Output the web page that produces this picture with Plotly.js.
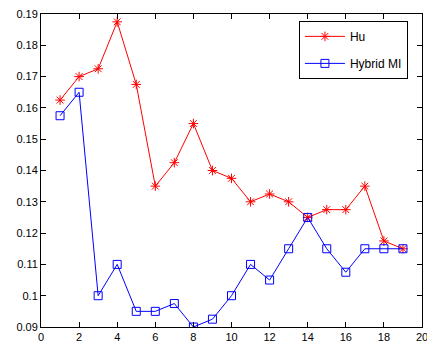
<!DOCTYPE html>
<html><head><meta charset="utf-8">
<script src="https://cdn.plot.ly/plotly-3.0.1.min.js"></script>
<style>html,body{margin:0;padding:0;background:#fff}#c{width:427px;height:345px}</style>
</head><body><div id="c"></div>
<script>
const xs = [1,2,3,4,5,6,7,8,9,10,11,12,13,14,15,16,17,18,19];
const huVals = [0.1625,0.17,0.1725,0.1875,0.1675,0.135,0.1425,0.155,0.14,0.1375,0.13,0.1325,0.13,0.125,0.1275,0.1275,0.135,0.1175,0.115];
const hybridVals = [0.1575,0.165,0.1,0.11,0.095,0.095,0.0975,0.09,0.0925,0.1,0.11,0.105,0.115,0.125,0.115,0.1075,0.115,0.115,0.115];
const seriesNames = ['Hu','Hybrid MI'];
const xTicks = [0,2,4,6,8,10,12,14,16,18,20];
const yTicks = [0.09,0.1,0.11,0.12,0.13,0.14,0.15,0.16,0.17,0.18,0.19];

const traces = [
 {x: xs, y: huVals, name: seriesNames[0], type:'scatter', mode:'lines+markers', legendgroup:'a',
  line:{color:'#ff0000', width:1}, marker:{symbol:'asterisk-open', size:8, color:'#ff0000', line:{color:'#ff0000', width:1}}},
 {x: xs, y: hybridVals, name: seriesNames[1], type:'scatter', mode:'lines+markers', legendgroup:'b',
  line:{color:'#0000ff', width:1}, marker:{symbol:'square-open', size:8, color:'#0000ff', line:{color:'#0000ff', width:1}}}
];
const axisCommon = {showline:true, linecolor:'#000', linewidth:1, mirror:'ticks', ticks:'inside', ticklen:5, tickcolor:'#000',
  showgrid:false, zeroline:false, automargin:false, tickfont:{family:'Liberation Sans, Arial, sans-serif', size:11, color:'#000'}};
const layout = {
  width:427, height:345, margin:{l:41, r:5, t:14, b:18},
  paper_bgcolor:'#fff', plot_bgcolor:'#fff', showlegend:true,
  xaxis: Object.assign({}, axisCommon, {range:[0,20.0001], tickvals:xTicks, ticktext:xTicks.map(String), ticklabeloverflow:'allow'}),
  yaxis: Object.assign({}, axisCommon, {range:[0.09,0.19], tickvals:yTicks, ticktext:yTicks.map(v=>String(+v.toFixed(2)))}),
  legend:{x:0.677, y:0.978, xanchor:'left', yanchor:'top', bordercolor:'#000', borderwidth:1, bgcolor:'#fff',
    font:{family:'Liberation Sans, Arial, sans-serif', size:12, color:'#000'}, traceorder:'grouped', tracegroupgap:8, itemwidth:40}
};
Plotly.newPlot('c', traces, layout, {displayModeBar:false, staticPlot:true});
</script></body></html>
